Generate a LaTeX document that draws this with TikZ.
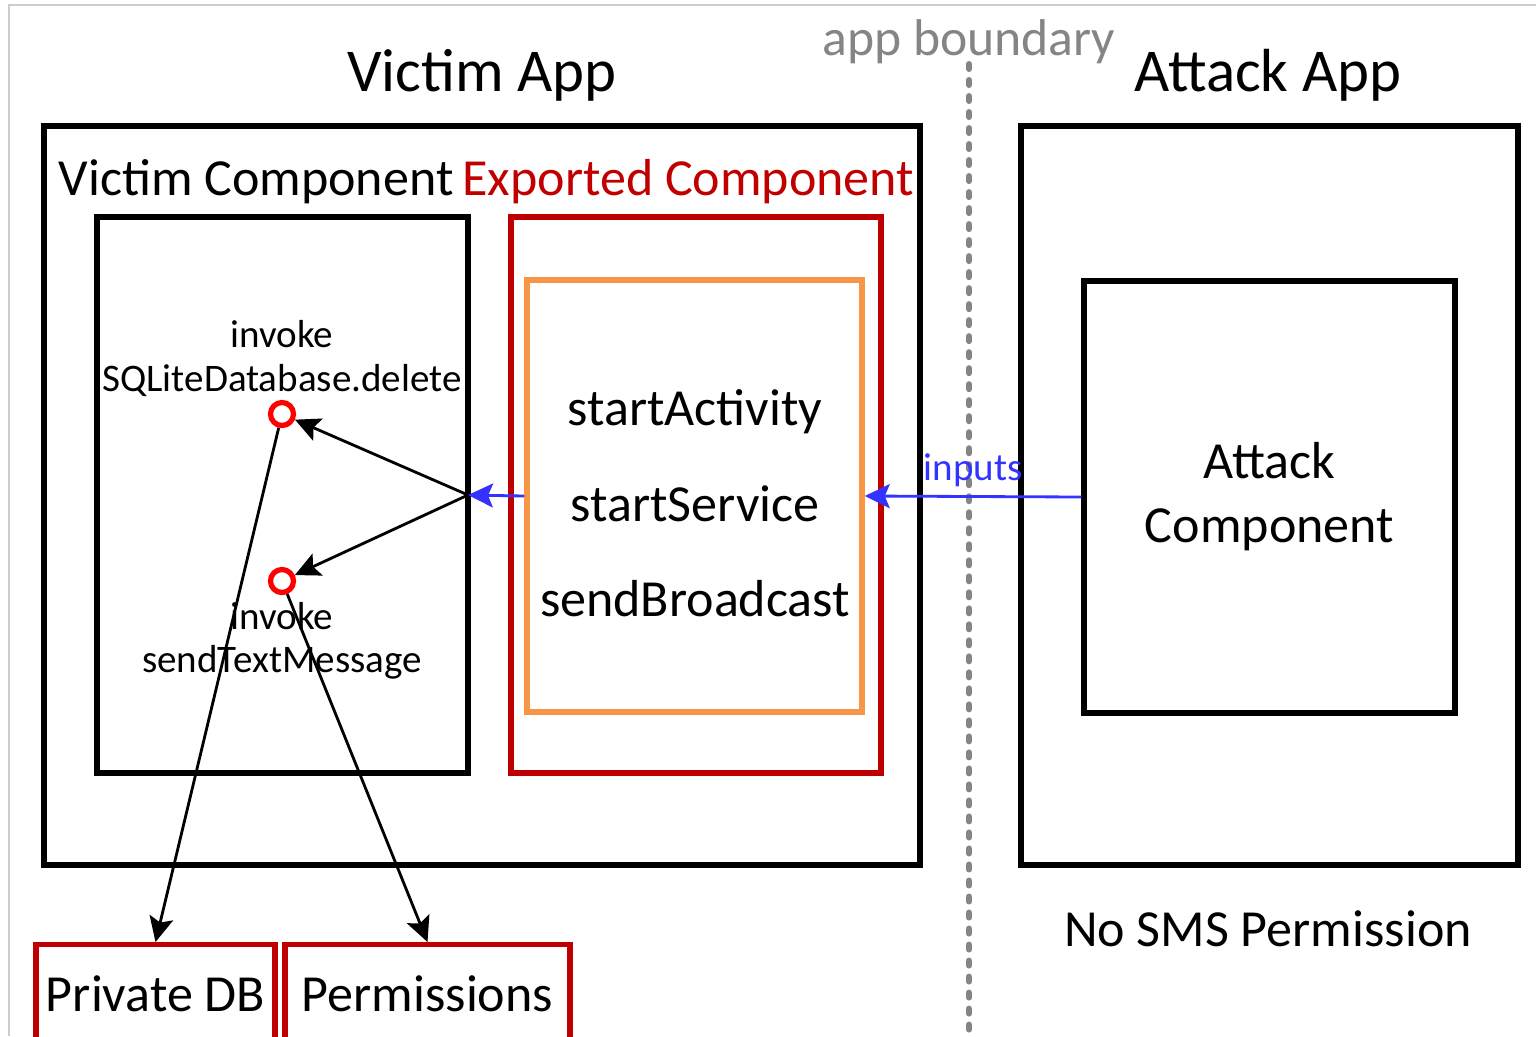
\documentclass[tikz,border=0pt]{standalone}
\usepackage{fontspec}
\setmainfont{Carlito}
\usetikzlibrary{arrows.meta}

\definecolor{boxred}{HTML}{C00000}
\definecolor{ringred}{HTML}{FF0000}
\definecolor{callorange}{HTML}{F79646}
\definecolor{inblue}{HTML}{3333FF}
\definecolor{bndgray}{HTML}{858585}

\tikzset{
    appbox/.style={draw, line width=1.7pt},
    compbox/.style={draw, line width=1.5pt, minimum width=3.71cm, minimum height=4.32cm, inner sep=0pt},
    resbox/.style={draw=boxred, line width=1.5pt, minimum height=0.98cm, anchor=north, inner sep=0pt},
    ring/.style={circle, draw=ringred, line width=1.5pt, minimum size=0.23cm, inner sep=0pt},
    big/.style={font=\fontsize{17.3}{20}\selectfont},
    mid/.style={font=\fontsize{14.8}{18.2}\selectfont},
    small/.style={font=\fontsize{11.1}{13}\selectfont},
    call/.style={-{Stealth[length=0.25cm, width=0.24cm, inset=0.05cm]}, line width=0.8pt},
}

\begin{document}
\begin{tikzpicture}[x=0.01cm, y=-0.01cm]
    \useasboundingbox (0,0) rectangle (1536,1036);
    % frame and app boundary
    \draw[black!20, line width=0.6pt] (9,1036) -- (9,5) -- (1536,5);
    \draw[bndgray, line width=1.7pt, line cap=round, dash pattern=on 0.05cm off 0.11cm] (969,64) -- (969,1036);
    \node (bnd) at (969,42) [big, text=bndgray, font=\fontsize{14.7}{17}\selectfont] {app boundary};

    % the two apps
    \node (victim) at (482,75) [big] {Victim App};
    \node (attacker) at (1268,75) [big] {Attack App};
    \draw[appbox] (44,126) rectangle (920,865);
    \draw[appbox] (1021,126) rectangle (1518,865);

    % components of the victim app
    \node (vclabel) at (58,182) [mid, anchor=west, inner sep=0pt] {Victim Component};
    \node (eclabel) at (915,182) [mid, anchor=east, inner sep=0pt, text=boxred] {Exported Component};
    \draw[line width=1.5pt] (97,217) rectangle (468,773);
    \draw[boxred, line width=1.5pt] (511,217) rectangle (881,773);
    \node (calls) at (694.5,496) [compbox, draw=callorange, minimum width=3.35cm] {};
    \node (sa) at (695,412) [mid] {startActivity};
    \node (ss) at (695,504) [mid] {startService};
    \node (sb) at (695,599) [mid] {sendBroadcast};

    % sinks
    \node (c1) at (282,414) [ring] {};
    \node (c2) at (282,581) [ring] {};
    \node (inv1) at (282,334) [small] {invoke};
    \node (del) at (282,381) [small] {SQLiteDatabase.delete};
    \node (inv2) at (282,616) [small] {invoke};
    \node (sms) at (282,662) [small] {sendTextMessage};
    \coordinate (jn) at (468,495);

    % attack app
    \node (attack) at (1269.5,497) [compbox, mid, align=center] {Attack\\Component};
    \node (nosms) at (1268,929) [mid] {No SMS Permission};

    % resources
    \node (db) at (155.5,942) [resbox, minimum width=2.39cm, mid] {Private DB};
    \node (perm) at (427.5,942) [resbox, minimum width=2.85cm, mid] {Permissions};

    % flows
    \draw[call, inblue] (attack.west) -- (calls.east) node[midway, above=-1pt, small] {inputs};
    \draw[call, inblue] (calls.west) -- (jn);
    \draw[call] (jn) -- (c1);
    \draw[call] (jn) -- (c2);
    \draw[call] (c1) -- (db.north);
    \draw[call] (c2) -- (perm.north);
\end{tikzpicture}
\end{document}
